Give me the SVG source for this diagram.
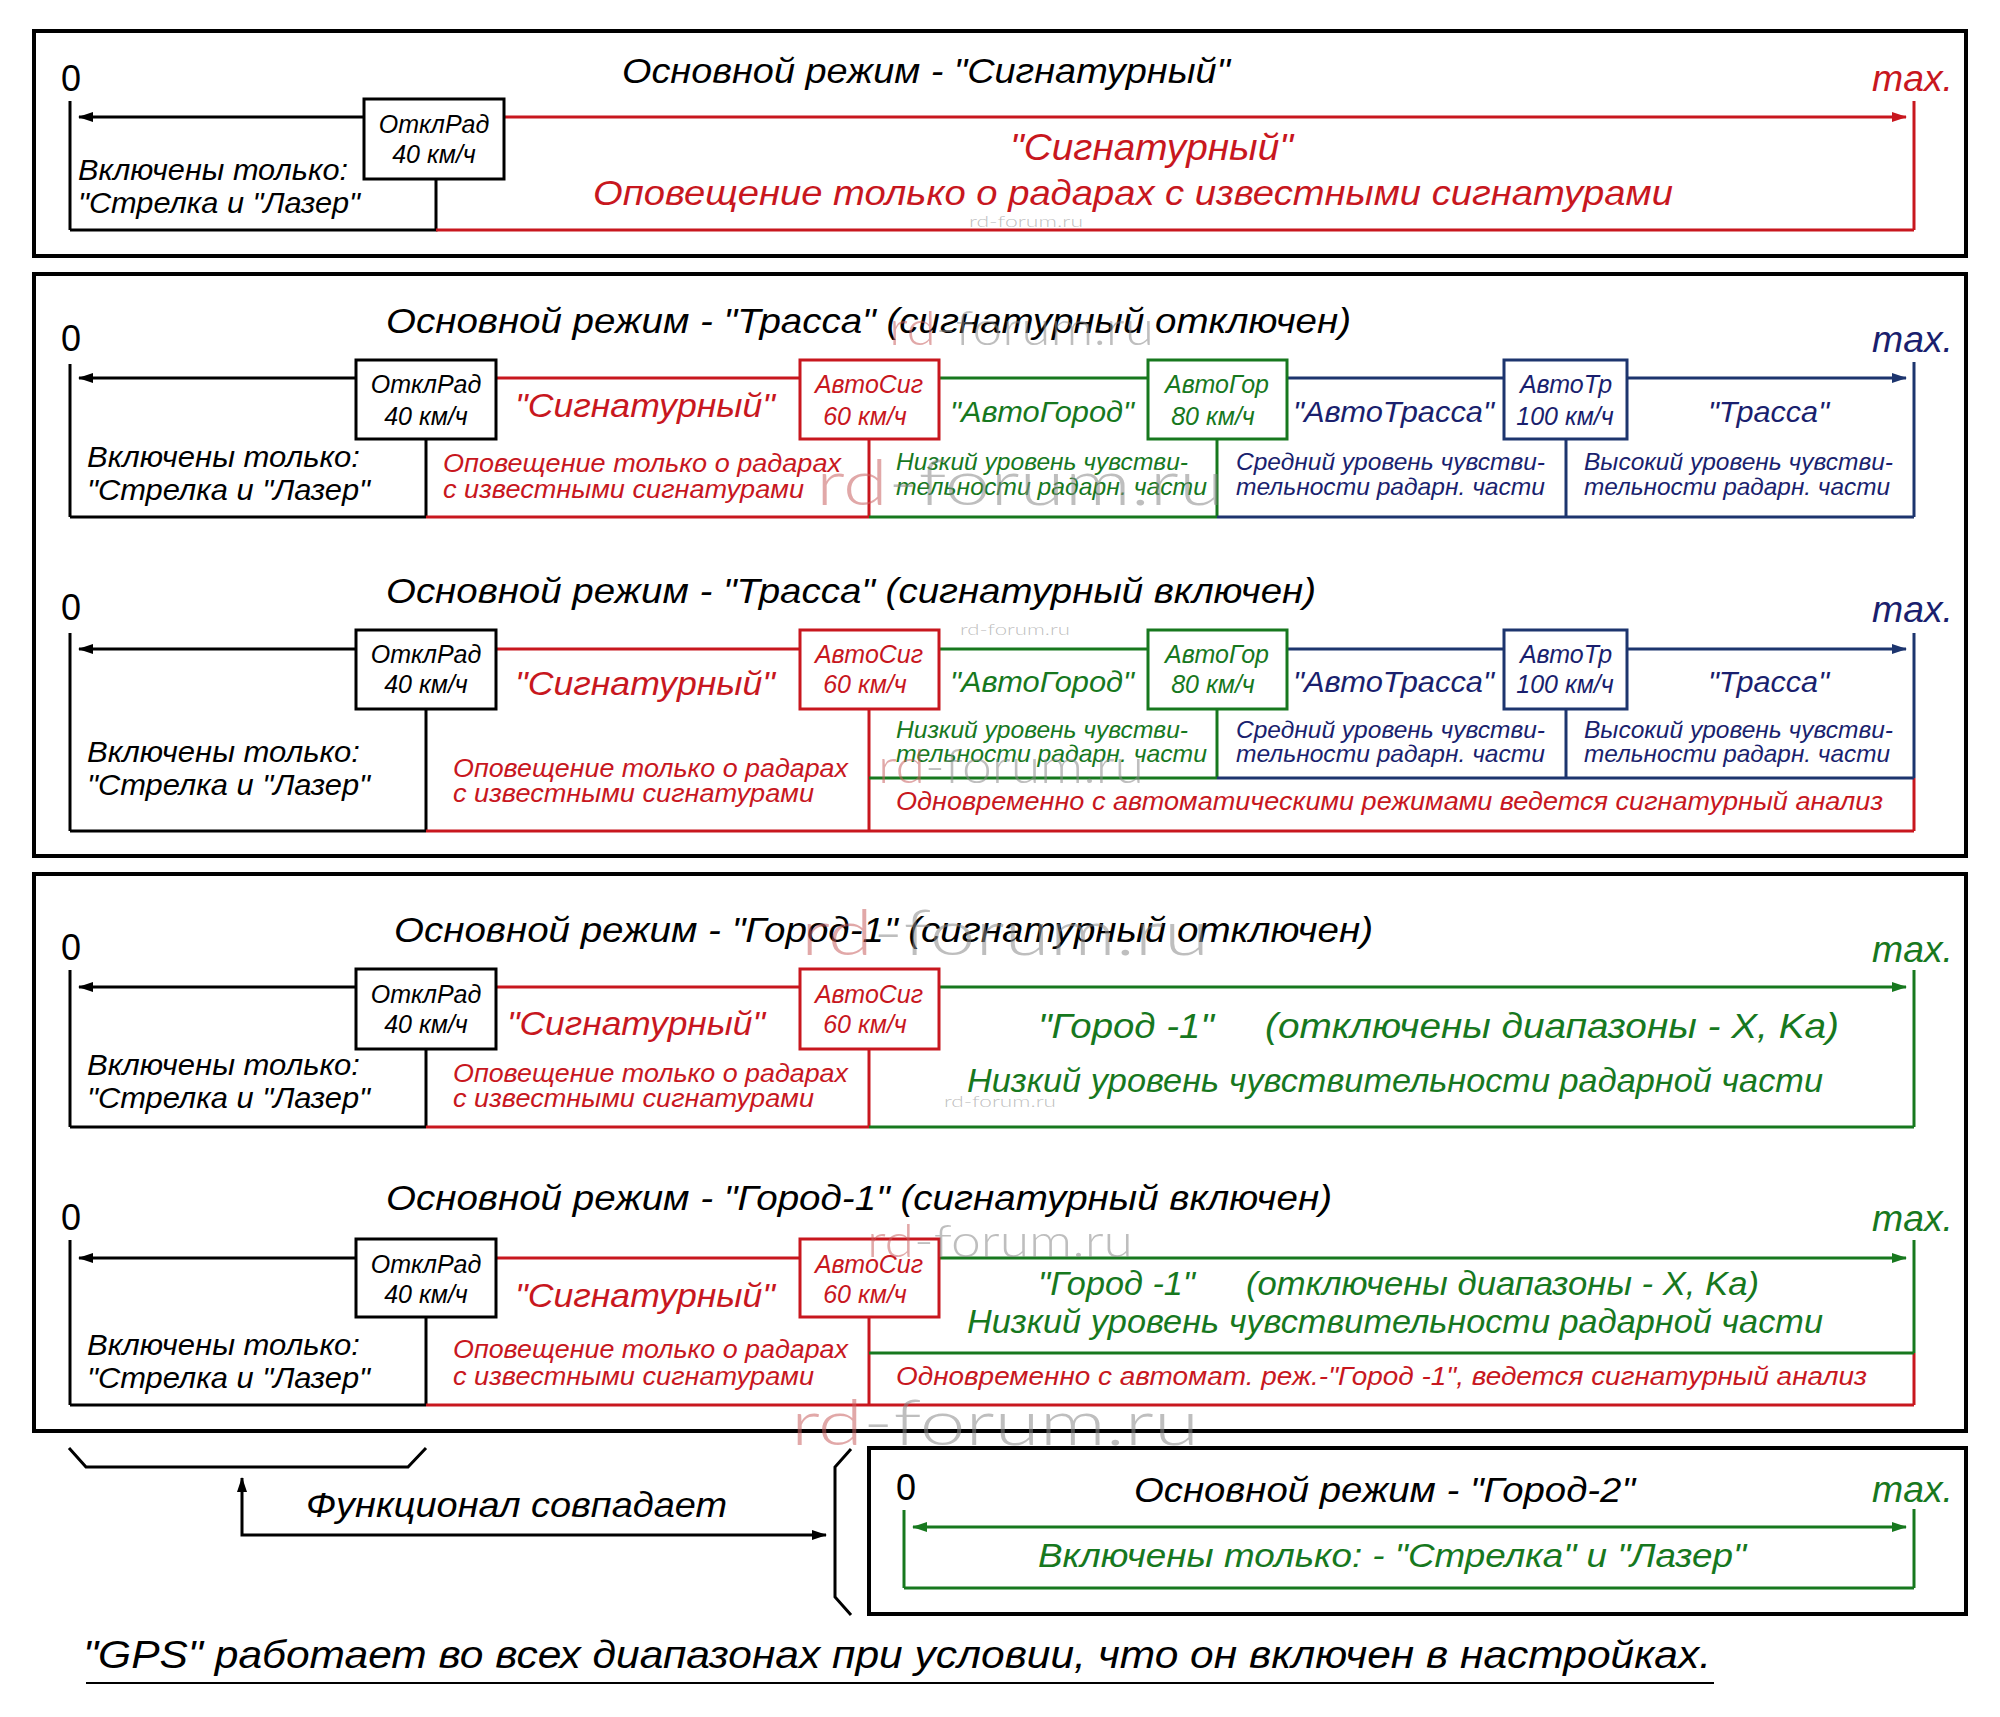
<svg xmlns="http://www.w3.org/2000/svg" width="2000" height="1717" viewBox="0 0 2000 1717">
<style>
text{font-family:"Liberation Sans",Arial,sans-serif;font-style:italic}
.zero{font-style:normal;font-size:36px;fill:#000}
.max{font-size:37px}
.ttl{font-size:35px;fill:#000}
.box{font-size:25px;text-anchor:middle}
.inc{font-size:29px;fill:#000}
.sub{font-size:25px}
.lvl{font-size:24px}
.big{font-size:33px}
.red{fill:#c8171e}.grn{fill:#17781e}.nav{fill:#1a1f6e}.blk{fill:#000}
.panel{fill:none;stroke:#000;stroke-width:4}
.bx{fill:#fff;stroke-width:3}
.ln{fill:none;stroke-width:3}
.k{stroke:#000}.r{stroke:#c8171e}.g{stroke:#17781e}.n{stroke:#1d356e}
.wm text{font-family:Lato,"Liberation Sans",sans-serif;font-style:normal;font-weight:300;fill-opacity:0.55}
.wr{fill:#c86060}.wg{fill:#888}
</style>
<defs>
<marker id="ak" markerUnits="userSpaceOnUse" markerWidth="16" markerHeight="12" refX="14" refY="5" orient="auto-start-reverse"><path d="M0,0 L15,5 L0,10 z" fill="#000"/></marker>
<marker id="ar" markerUnits="userSpaceOnUse" markerWidth="16" markerHeight="12" refX="14" refY="5" orient="auto-start-reverse"><path d="M0,0 L15,5 L0,10 z" fill="#c8171e"/></marker>
<marker id="ag" markerUnits="userSpaceOnUse" markerWidth="16" markerHeight="12" refX="14" refY="5" orient="auto-start-reverse"><path d="M0,0 L15,5 L0,10 z" fill="#17781e"/></marker>
<marker id="an" markerUnits="userSpaceOnUse" markerWidth="16" markerHeight="12" refX="14" refY="5" orient="auto-start-reverse"><path d="M0,0 L15,5 L0,10 z" fill="#1d356e"/></marker>
</defs>
<rect width="2000" height="1717" fill="#fff"/>

<!-- panel frames -->
<rect class="panel" x="34" y="31" width="1932" height="225"/>
<rect class="panel" x="34" y="274" width="1932" height="582"/>
<rect class="panel" x="34" y="874" width="1932" height="557"/>
<rect class="panel" x="869" y="1448" width="1097" height="166"/>

<g id="connectors">
<!-- panel 1 -->
<line class="ln k" x1="70" y1="101" x2="70" y2="230"/>
<line class="ln k" x1="364" y1="117" x2="79" y2="117" marker-end="url(#ak)"/>
<line class="ln r" x1="504" y1="117" x2="1906" y2="117" marker-end="url(#ar)"/>
<line class="ln r" x1="1914" y1="101" x2="1914" y2="230"/>
<polyline class="ln k" points="70,230 436,230 436,179"/>
<line class="ln r" x1="436" y1="230" x2="1914" y2="230"/>
<!-- panel 2a -->
<line class="ln k" x1="70" y1="364" x2="70" y2="517"/>
<line class="ln k" x1="356" y1="378" x2="79" y2="378" marker-end="url(#ak)"/>
<line class="ln r" x1="496" y1="378" x2="800" y2="378"/>
<line class="ln g" x1="939" y1="378" x2="1148" y2="378"/>
<line class="ln n" x1="1287" y1="378" x2="1504" y2="378"/>
<line class="ln n" x1="1627" y1="378" x2="1906" y2="378" marker-end="url(#an)"/>
<line class="ln n" x1="1914" y1="362" x2="1914" y2="517"/>
<line class="ln k" x1="426" y1="439" x2="426" y2="517"/>
<line class="ln r" x1="869" y1="439" x2="869" y2="517"/>
<line class="ln g" x1="1217" y1="439" x2="1217" y2="517"/>
<line class="ln n" x1="1566" y1="439" x2="1566" y2="517"/>
<line class="ln k" x1="70" y1="517" x2="426" y2="517"/>
<line class="ln r" x1="426" y1="517" x2="869" y2="517"/>
<line class="ln g" x1="869" y1="517" x2="1217" y2="517"/>
<line class="ln n" x1="1217" y1="517" x2="1914" y2="517"/>
<!-- panel 2b -->
<line class="ln k" x1="70" y1="633" x2="70" y2="831"/>
<line class="ln k" x1="356" y1="649" x2="79" y2="649" marker-end="url(#ak)"/>
<line class="ln r" x1="496" y1="649" x2="800" y2="649"/>
<line class="ln g" x1="939" y1="649" x2="1148" y2="649"/>
<line class="ln n" x1="1287" y1="649" x2="1504" y2="649"/>
<line class="ln n" x1="1627" y1="649" x2="1906" y2="649" marker-end="url(#an)"/>
<line class="ln n" x1="1914" y1="633" x2="1914" y2="778"/>
<line class="ln r" x1="1914" y1="778" x2="1914" y2="831"/>
<line class="ln k" x1="426" y1="709" x2="426" y2="831"/>
<line class="ln r" x1="869" y1="709" x2="869" y2="831"/>
<line class="ln g" x1="1217" y1="709" x2="1217" y2="778"/>
<line class="ln n" x1="1566" y1="709" x2="1566" y2="778"/>
<line class="ln g" x1="869" y1="778" x2="1217" y2="778"/>
<line class="ln n" x1="1217" y1="778" x2="1914" y2="778"/>
<line class="ln k" x1="70" y1="831" x2="426" y2="831"/>
<line class="ln r" x1="426" y1="831" x2="1914" y2="831"/>
<!-- panel 3a -->
<line class="ln k" x1="70" y1="970" x2="70" y2="1127"/>
<line class="ln k" x1="356" y1="987" x2="79" y2="987" marker-end="url(#ak)"/>
<line class="ln r" x1="496" y1="987" x2="800" y2="987"/>
<line class="ln g" x1="939" y1="987" x2="1906" y2="987" marker-end="url(#ag)"/>
<line class="ln g" x1="1914" y1="970" x2="1914" y2="1127"/>
<line class="ln k" x1="426" y1="1049" x2="426" y2="1127"/>
<line class="ln r" x1="869" y1="1049" x2="869" y2="1127"/>
<line class="ln k" x1="70" y1="1127" x2="426" y2="1127"/>
<line class="ln r" x1="426" y1="1127" x2="869" y2="1127"/>
<line class="ln g" x1="869" y1="1127" x2="1914" y2="1127"/>
<!-- panel 3b -->
<line class="ln k" x1="70" y1="1240" x2="70" y2="1405"/>
<line class="ln k" x1="356" y1="1258" x2="79" y2="1258" marker-end="url(#ak)"/>
<line class="ln r" x1="496" y1="1258" x2="800" y2="1258"/>
<line class="ln g" x1="939" y1="1258" x2="1906" y2="1258" marker-end="url(#ag)"/>
<line class="ln g" x1="1914" y1="1240" x2="1914" y2="1353"/>
<line class="ln r" x1="1914" y1="1353" x2="1914" y2="1405"/>
<line class="ln k" x1="426" y1="1317" x2="426" y2="1405"/>
<line class="ln r" x1="869" y1="1317" x2="869" y2="1405"/>
<line class="ln g" x1="869" y1="1353" x2="1914" y2="1353"/>
<line class="ln k" x1="70" y1="1405" x2="426" y2="1405"/>
<line class="ln r" x1="426" y1="1405" x2="1914" y2="1405"/>
<!-- panel 4 -->
<line class="ln g" x1="904" y1="1510" x2="904" y2="1588"/>
<line class="ln g" x1="913" y1="1527" x2="1906" y2="1527" marker-start="url(#ag)" marker-end="url(#ag)"/>
<line class="ln g" x1="1914" y1="1509" x2="1914" y2="1588"/>
<line class="ln g" x1="904" y1="1588" x2="1914" y2="1588"/>
<!-- brackets and link -->
<polyline class="ln k" points="69,1448 86,1467 408,1467 426,1448"/>
<polyline class="ln k" points="851,1449 835,1467 835,1597 851,1615"/>
<path class="ln k" d="M242,1478 L242,1535 L826,1535" marker-start="url(#ak)" marker-end="url(#ak)"/>
<line x1="86" y1="1683" x2="1714" y2="1683" stroke="#000" stroke-width="2"/>
</g>

<!-- Panel 1 -->
<g id="p1">
<text class="zero" x="61" y="91">0</text>
<text class="ttl" x="622" y="83" textLength="608" lengthAdjust="spacingAndGlyphs">Основной режим - "Сигнатурный"</text>
<text class="max red" x="1872" y="91" textLength="81" lengthAdjust="spacingAndGlyphs">max.</text>
<text class="inc" x="78" y="180" textLength="270" lengthAdjust="spacingAndGlyphs">Включены только:</text>
<text class="inc" x="78" y="213" textLength="282" lengthAdjust="spacingAndGlyphs">"Стрелка и "Лазер"</text>
<text class="red" x="1010" y="160" font-size="37" textLength="283" lengthAdjust="spacingAndGlyphs">"Сигнатурный"</text>
<text class="red" x="593" y="205" font-size="35" textLength="1080" lengthAdjust="spacingAndGlyphs">Оповещение только о радарах с известными сигнатурами</text>
</g>
<g id="p1-otklrad">
<rect class="bx k" x="364" y="99" width="140" height="80"/>
<text class="box blk" x="434" y="133">ОтклРад</text>
<text class="box blk" x="434" y="163">40 км/ч</text>
</g>

<!-- Panel 2a -->
<g id="p2a">
<text class="zero" x="61" y="351">0</text>
<text class="ttl" x="386" y="333" textLength="965" lengthAdjust="spacingAndGlyphs">Основной режим - "Трасса"  (сигнатурный отключен)</text>
<text class="max nav" x="1872" y="352" textLength="81" lengthAdjust="spacingAndGlyphs">max.</text>
<text class="inc" x="87" y="467" textLength="273" lengthAdjust="spacingAndGlyphs">Включены только:</text>
<text class="inc" x="87" y="500" textLength="283" lengthAdjust="spacingAndGlyphs">"Стрелка и "Лазер"</text>
<text class="big red" x="515" y="417" textLength="260" lengthAdjust="spacingAndGlyphs">"Сигнатурный"</text>
<text class="sub red" x="443" y="472" textLength="398" lengthAdjust="spacingAndGlyphs">Оповещение только о радарах</text>
<text class="sub red" x="443" y="498" textLength="361" lengthAdjust="spacingAndGlyphs">с известными сигнатурами</text>
<text class="grn" x="950" y="422" font-size="29" textLength="184" lengthAdjust="spacingAndGlyphs">"АвтоГород"</text>
<text class="lvl grn" x="896" y="470" textLength="292" lengthAdjust="spacingAndGlyphs">Низкий уровень чувстви-</text>
<text class="lvl grn" x="896" y="495" textLength="311" lengthAdjust="spacingAndGlyphs">тельности радарн. части</text>
<text class="nav" x="1293" y="422" font-size="29" textLength="201" lengthAdjust="spacingAndGlyphs">"АвтоТрасса"</text>
<text class="lvl nav" x="1236" y="470" textLength="309" lengthAdjust="spacingAndGlyphs">Средний уровень чувстви-</text>
<text class="lvl nav" x="1236" y="495" textLength="309" lengthAdjust="spacingAndGlyphs">тельности радарн. части</text>
<text class="nav" x="1708" y="422" font-size="29" textLength="121" lengthAdjust="spacingAndGlyphs">"Трасса"</text>
<text class="lvl nav" x="1584" y="470" textLength="309" lengthAdjust="spacingAndGlyphs">Высокий уровень чувстви-</text>
<text class="lvl nav" x="1584" y="495" textLength="306" lengthAdjust="spacingAndGlyphs">тельности радарн. части</text>
</g>
<g id="p2a-otklrad"><rect class="bx k" x="356" y="360" width="140" height="79"/><text class="box blk" x="426" y="393">ОтклРад</text><text class="box blk" x="426" y="425">40 км/ч</text></g>
<g id="p2a-avtosig"><rect class="bx r" x="800" y="360" width="139" height="79"/><text class="box red" x="869" y="393">АвтоСиг</text><text class="box red" x="865" y="425">60 км/ч</text></g>
<g id="p2a-avtogor"><rect class="bx g" x="1148" y="360" width="139" height="79"/><text class="box grn" x="1217" y="393">АвтоГор</text><text class="box grn" x="1213" y="425">80 км/ч</text></g>
<g id="p2a-avtotr"><rect class="bx n" x="1504" y="360" width="123" height="79"/><text class="box nav" x="1566" y="393">АвтоТр</text><text class="box nav" x="1565" y="425">100 км/ч</text></g>

<!-- Panel 2b -->
<g id="p2b">
<text class="zero" x="61" y="620">0</text>
<text class="ttl" x="386" y="603" textLength="930" lengthAdjust="spacingAndGlyphs">Основной режим - "Трасса"  (сигнатурный включен)</text>
<text class="max nav" x="1872" y="622" textLength="81" lengthAdjust="spacingAndGlyphs">max.</text>
<text class="inc" x="87" y="762" textLength="273" lengthAdjust="spacingAndGlyphs">Включены только:</text>
<text class="inc" x="87" y="795" textLength="283" lengthAdjust="spacingAndGlyphs">"Стрелка и "Лазер"</text>
<text class="big red" x="515" y="695" textLength="260" lengthAdjust="spacingAndGlyphs">"Сигнатурный"</text>
<text class="sub red" x="453" y="777" textLength="395" lengthAdjust="spacingAndGlyphs">Оповещение только о радарах</text>
<text class="sub red" x="453" y="802" textLength="361" lengthAdjust="spacingAndGlyphs">с известными сигнатурами</text>
<text class="grn" x="950" y="692" font-size="29" textLength="184" lengthAdjust="spacingAndGlyphs">"АвтоГород"</text>
<text class="lvl grn" x="896" y="738" textLength="292" lengthAdjust="spacingAndGlyphs">Низкий уровень чувстви-</text>
<text class="lvl grn" x="896" y="762" textLength="311" lengthAdjust="spacingAndGlyphs">тельности радарн. части</text>
<text class="nav" x="1293" y="692" font-size="29" textLength="201" lengthAdjust="spacingAndGlyphs">"АвтоТрасса"</text>
<text class="lvl nav" x="1236" y="738" textLength="309" lengthAdjust="spacingAndGlyphs">Средний уровень чувстви-</text>
<text class="lvl nav" x="1236" y="762" textLength="309" lengthAdjust="spacingAndGlyphs">тельности радарн. части</text>
<text class="nav" x="1708" y="692" font-size="29" textLength="121" lengthAdjust="spacingAndGlyphs">"Трасса"</text>
<text class="lvl nav" x="1584" y="738" textLength="309" lengthAdjust="spacingAndGlyphs">Высокий уровень чувстви-</text>
<text class="lvl nav" x="1584" y="762" textLength="306" lengthAdjust="spacingAndGlyphs">тельности радарн. части</text>
<text class="red" x="896" y="810" font-size="26" textLength="987" lengthAdjust="spacingAndGlyphs">Одновременно с автоматическими режимами ведется сигнатурный анализ</text>
</g>
<g id="p2b-otklrad"><rect class="bx k" x="356" y="630" width="140" height="79"/><text class="box blk" x="426" y="663">ОтклРад</text><text class="box blk" x="426" y="693">40 км/ч</text></g>
<g id="p2b-avtosig"><rect class="bx r" x="800" y="630" width="139" height="79"/><text class="box red" x="869" y="663">АвтоСиг</text><text class="box red" x="865" y="693">60 км/ч</text></g>
<g id="p2b-avtogor"><rect class="bx g" x="1148" y="630" width="139" height="79"/><text class="box grn" x="1217" y="663">АвтоГор</text><text class="box grn" x="1213" y="693">80 км/ч</text></g>
<g id="p2b-avtotr"><rect class="bx n" x="1504" y="630" width="123" height="79"/><text class="box nav" x="1566" y="663">АвтоТр</text><text class="box nav" x="1565" y="693">100 км/ч</text></g>

<!-- Panel 3a -->
<g id="p3a">
<text class="zero" x="61" y="960">0</text>
<text class="ttl" x="394" y="942" textLength="979" lengthAdjust="spacingAndGlyphs">Основной режим - "Город-1" (сигнатурный отключен)</text>
<text class="max grn" x="1872" y="962" textLength="81" lengthAdjust="spacingAndGlyphs">max.</text>
<text class="inc" x="87" y="1075" textLength="273" lengthAdjust="spacingAndGlyphs">Включены только:</text>
<text class="inc" x="87" y="1108" textLength="283" lengthAdjust="spacingAndGlyphs">"Стрелка и "Лазер"</text>
<text class="big red" x="507" y="1035" textLength="258" lengthAdjust="spacingAndGlyphs">"Сигнатурный"</text>
<text class="sub red" x="453" y="1082" textLength="395" lengthAdjust="spacingAndGlyphs">Оповещение только о радарах</text>
<text class="sub red" x="453" y="1107" textLength="361" lengthAdjust="spacingAndGlyphs">с известными сигнатурами</text>
<text class="grn" x="1038" y="1038" font-size="35" textLength="176" lengthAdjust="spacingAndGlyphs">"Город -1"</text>
<text class="grn" x="1265" y="1038" font-size="35" textLength="574" lengthAdjust="spacingAndGlyphs">(отключены диапазоны - X,  Ka)</text>
<text class="big grn" x="967" y="1092" textLength="856" lengthAdjust="spacingAndGlyphs">Низкий уровень чувствительности радарной части</text>
</g>
<g id="p3a-otklrad"><rect class="bx k" x="356" y="969" width="140" height="80"/><text class="box blk" x="426" y="1003">ОтклРад</text><text class="box blk" x="426" y="1033">40 км/ч</text></g>
<g id="p3a-avtosig"><rect class="bx r" x="800" y="969" width="139" height="80"/><text class="box red" x="869" y="1003">АвтоСиг</text><text class="box red" x="865" y="1033">60 км/ч</text></g>

<!-- Panel 3b -->
<g id="p3b">
<text class="zero" x="61" y="1230">0</text>
<text class="ttl" x="386" y="1210" textLength="946" lengthAdjust="spacingAndGlyphs">Основной режим - "Город-1"  (сигнатурный включен)</text>
<text class="max grn" x="1872" y="1231" textLength="81" lengthAdjust="spacingAndGlyphs">max.</text>
<text class="inc" x="87" y="1355" textLength="273" lengthAdjust="spacingAndGlyphs">Включены только:</text>
<text class="inc" x="87" y="1388" textLength="283" lengthAdjust="spacingAndGlyphs">"Стрелка и "Лазер"</text>
<text class="big red" x="515" y="1307" textLength="260" lengthAdjust="spacingAndGlyphs">"Сигнатурный"</text>
<text class="sub red" x="453" y="1358" textLength="395" lengthAdjust="spacingAndGlyphs">Оповещение только о радарах</text>
<text class="sub red" x="453" y="1385" textLength="361" lengthAdjust="spacingAndGlyphs">с известными сигнатурами</text>
<text class="big grn" x="1038" y="1295" textLength="157" lengthAdjust="spacingAndGlyphs">"Город -1"</text>
<text class="big grn" x="1246" y="1295" textLength="513" lengthAdjust="spacingAndGlyphs">(отключены диапазоны - X,  Ka)</text>
<text class="big grn" x="967" y="1333" textLength="856" lengthAdjust="spacingAndGlyphs">Низкий уровень чувствительности радарной части</text>
<text class="red" x="896" y="1385" font-size="26" textLength="971" lengthAdjust="spacingAndGlyphs">Одновременно с автомат. реж.-"Город -1", ведется сигнатурный анализ</text>
</g>
<g id="p3b-otklrad"><rect class="bx k" x="356" y="1239" width="140" height="78"/><text class="box blk" x="426" y="1273">ОтклРад</text><text class="box blk" x="426" y="1303">40 км/ч</text></g>
<g id="p3b-avtosig"><rect class="bx r" x="800" y="1239" width="139" height="78"/><text class="box red" x="869" y="1273">АвтоСиг</text><text class="box red" x="865" y="1303">60 км/ч</text></g>

<!-- Panel 4 -->
<g id="p4">
<text class="zero" x="896" y="1500" font-size="32">0</text>
<text class="ttl" x="1134" y="1502" textLength="501" lengthAdjust="spacingAndGlyphs">Основной режим - "Город-2"</text>
<text class="max grn" x="1872" y="1502" textLength="81" lengthAdjust="spacingAndGlyphs">max.</text>
<text class="big grn" x="1038" y="1567" textLength="708" lengthAdjust="spacingAndGlyphs">Включены только: - "Стрелка" и "Лазер"</text>
</g>
<g id="note">
<text class="blk" x="306" y="1517" font-size="35" textLength="421" lengthAdjust="spacingAndGlyphs">Функционал совпадает</text>
<text class="blk" x="83" y="1668" font-size="39" textLength="1628" lengthAdjust="spacingAndGlyphs">"GPS" работает во всех диапазонах при условии, что он включен в настройках.</text>
</g>

<!-- watermarks -->
<g id="watermarks" class="wm">
<text x="969" y="227" font-size="16" class="wg" textLength="114" lengthAdjust="spacingAndGlyphs">rd-forum.ru</text>
<text x="889" y="345" font-size="48" textLength="265" lengthAdjust="spacingAndGlyphs"><tspan class="wr">rd</tspan><tspan class="wg">-forum.ru</tspan></text>
<text x="816" y="505" font-size="64" textLength="408" lengthAdjust="spacingAndGlyphs"><tspan class="wr">rd</tspan><tspan class="wg">-forum.ru</tspan></text>
<text x="960" y="635" font-size="16" class="wg" textLength="110" lengthAdjust="spacingAndGlyphs">rd-forum.ru</text>
<text x="878" y="783" font-size="48" textLength="266" lengthAdjust="spacingAndGlyphs"><tspan class="wr">rd</tspan><tspan class="wg">-forum.ru</tspan></text>
<text x="801" y="955" font-size="64" textLength="408" lengthAdjust="spacingAndGlyphs"><tspan class="wr">rd</tspan><tspan class="wg">-forum.ru</tspan></text>
<text x="944" y="1107" font-size="16" class="wg" textLength="112" lengthAdjust="spacingAndGlyphs">rd-forum.ru</text>
<text x="867" y="1257" font-size="45" textLength="266" lengthAdjust="spacingAndGlyphs"><tspan class="wr">rd</tspan><tspan class="wg">-forum.ru</tspan></text>
<text x="791" y="1445" font-size="64" textLength="408" lengthAdjust="spacingAndGlyphs"><tspan class="wr">rd</tspan><tspan class="wg">-forum.ru</tspan></text>
</g>
</svg>
